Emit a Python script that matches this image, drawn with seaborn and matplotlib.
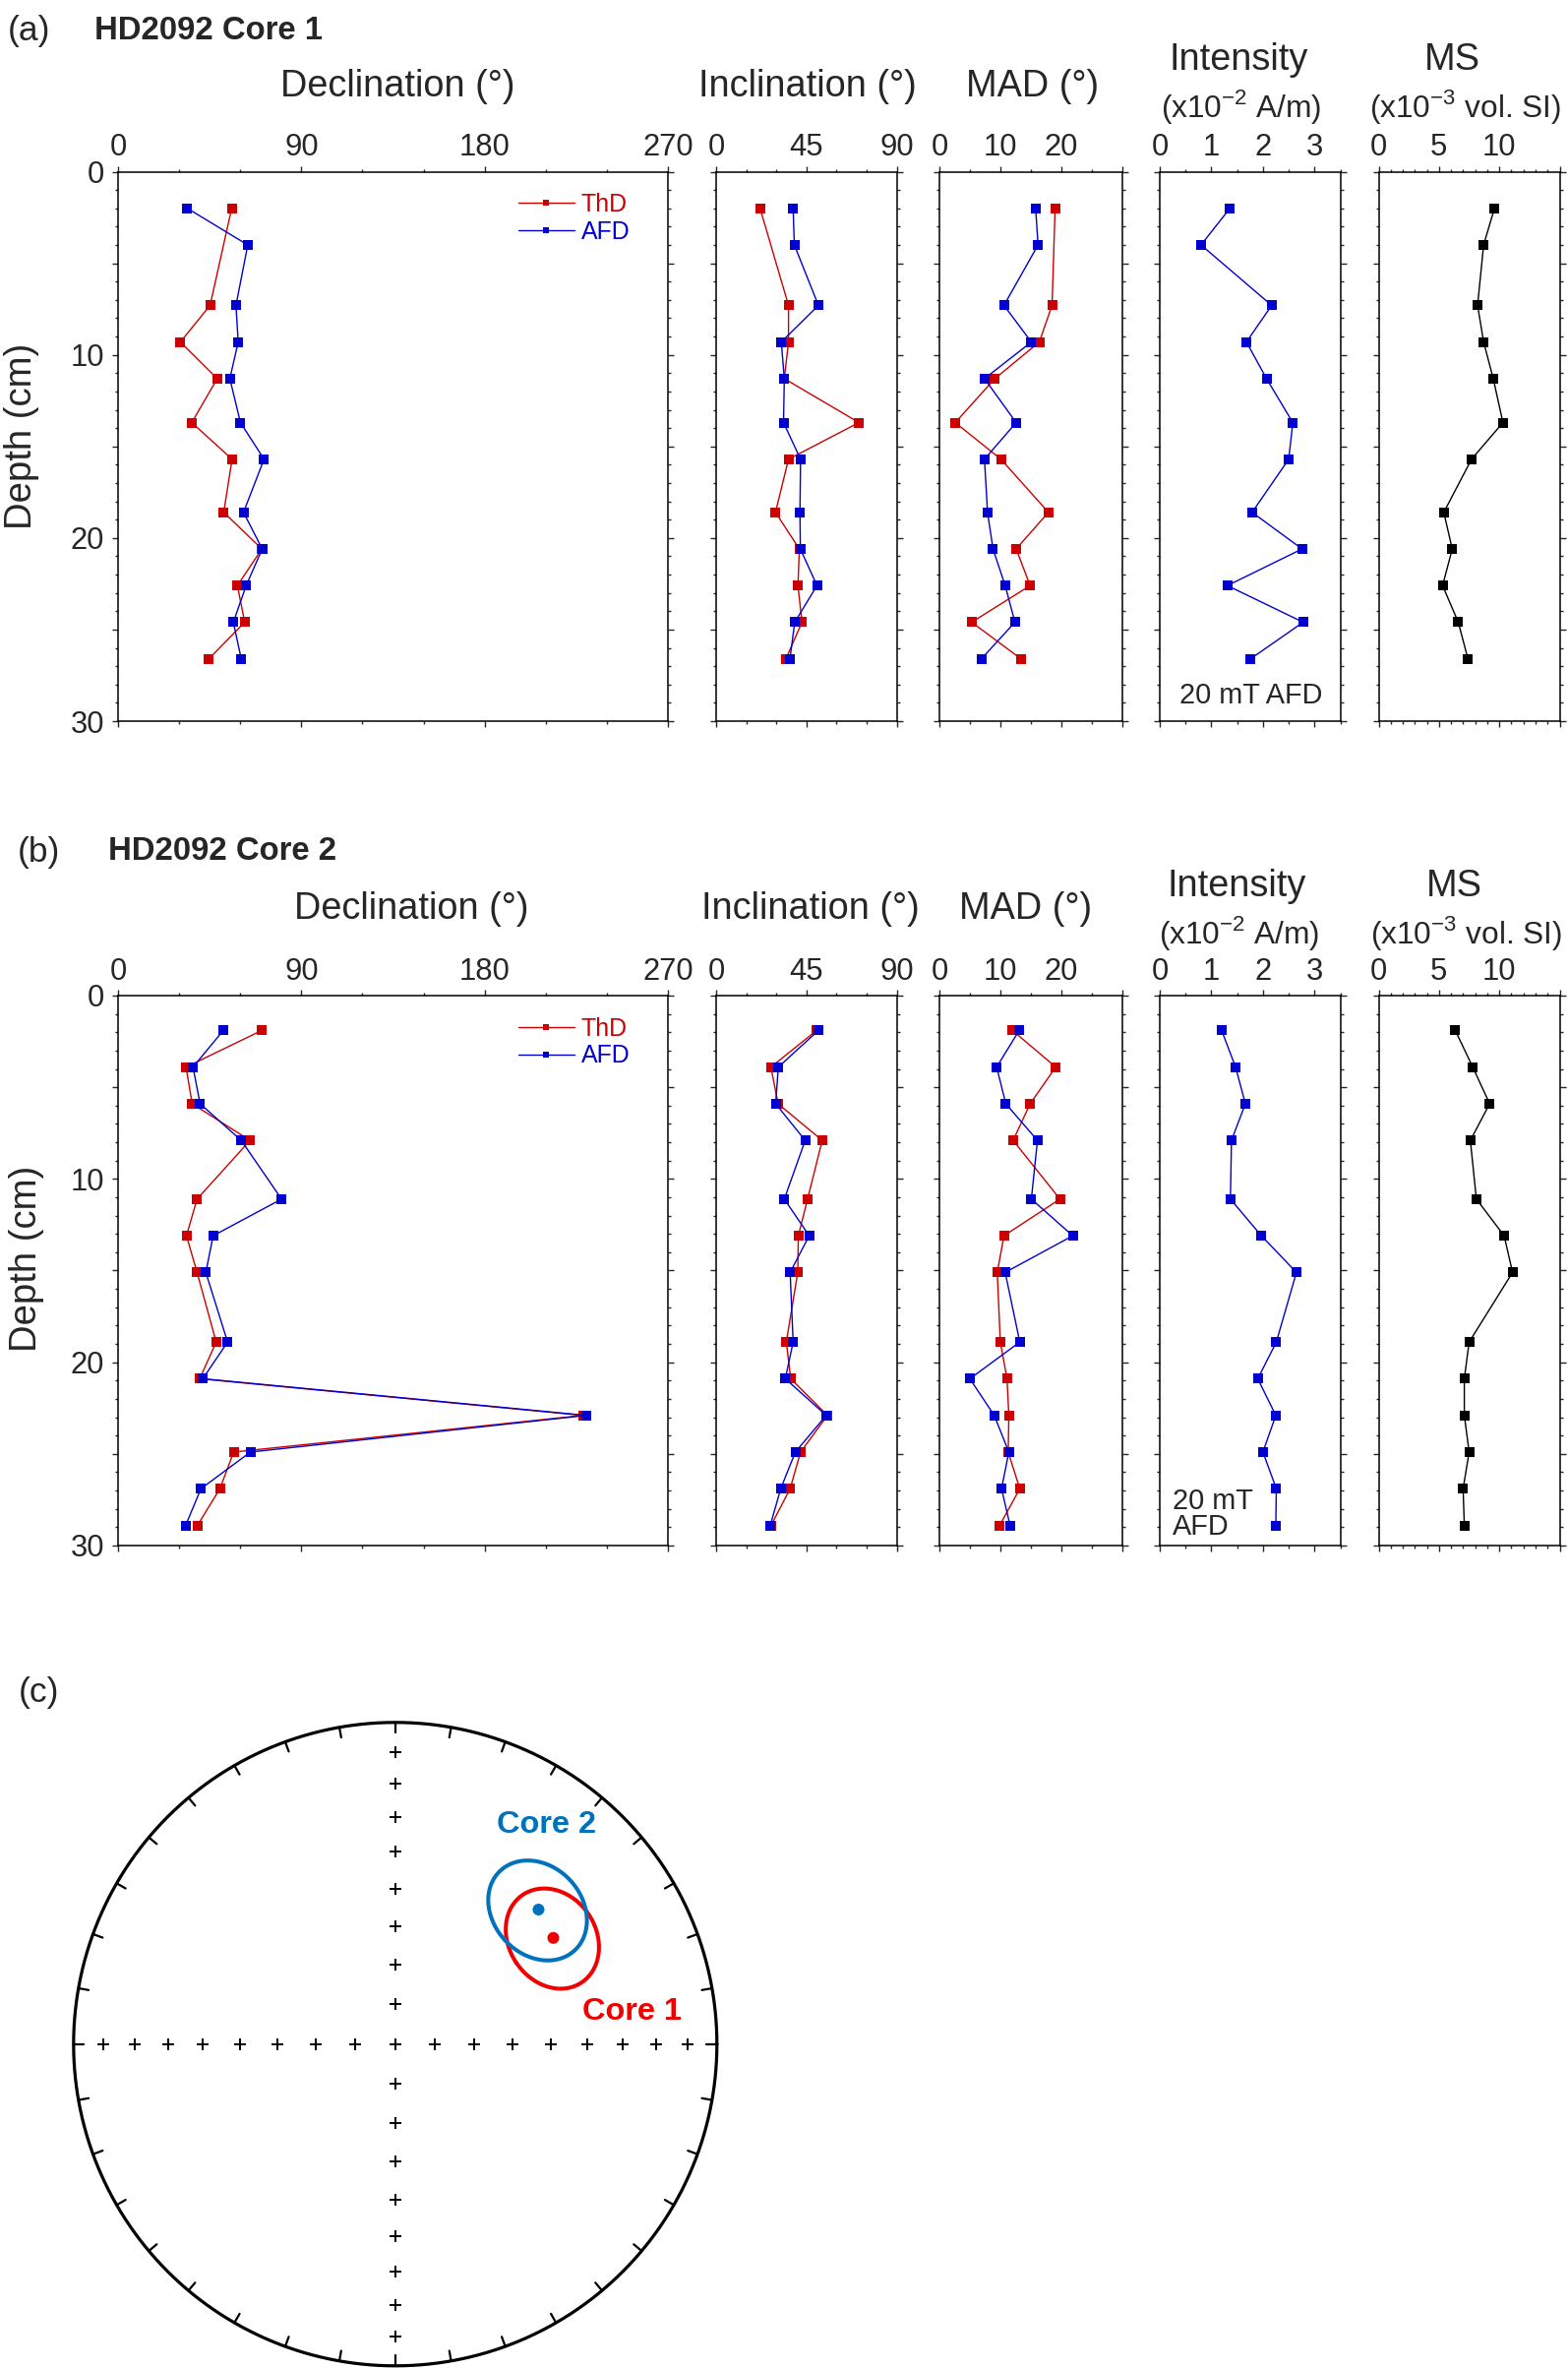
"""Palaeomagnetic down-core profiles for HD2092 cores 1 and 2 plus an equal-area plot of the core means."""

import numpy as np
import matplotlib
matplotlib.use("Agg")
import matplotlib.pyplot as plt
import seaborn as sns
from matplotlib.ticker import FixedLocator, MultipleLocator, FuncFormatter

# ---- Core 1 data (depth in cm) ----
depth1 = [2.0, 4.0, 7.3, 9.3, 11.3, 13.7, 15.7, 18.6, 20.6, 22.6, 24.6, 26.6]
depth1_thd = [2.0, 7.3, 9.3, 11.3, 13.7, 15.7, 18.6, 20.6, 22.6, 24.6, 26.6]
dec1_thd = [55.8, 45.2, 30.6, 48.7, 36.2, 56.0, 51.9, 70.6, 58.6, 62.2, 44.6]
dec1_afd = [34.0, 63.7, 57.9, 59.0, 54.9, 60.1, 71.7, 61.6, 70.8, 62.9, 56.6, 60.5]
inc1_thd = [21.9, 36.1, 36.1, 34.0, 71.2, 36.1, 29.6, 41.5, 40.8, 42.8, 34.8]
inc1_afd = [38.4, 39.0, 51.0, 32.5, 34.0, 33.6, 42.1, 41.8, 42.0, 50.3, 39.2, 36.8]
mad1_thd = [19.0, 18.5, 16.4, 9.1, 2.6, 10.1, 17.9, 12.6, 14.9, 5.3, 13.4]
mad1_afd = [15.8, 16.2, 10.6, 15.1, 7.4, 12.6, 7.4, 7.9, 8.8, 10.8, 12.4, 6.9]
int1_afd = [1.36, 0.80, 2.17, 1.68, 2.07, 2.58, 2.50, 1.79, 2.76, 1.31, 2.78, 1.76]
ms1 = [9.6, 8.7, 8.2, 8.7, 9.5, 10.3, 7.7, 5.4, 6.1, 5.3, 6.6, 7.4]

# ---- Core 2 data ----
depth2 = [1.9, 3.9, 5.9, 7.9, 11.1, 13.1, 15.1, 18.9, 20.9, 22.9, 24.9, 26.9, 28.9]
dec2_thd = [70.6, 33.4, 36.4, 64.8, 38.8, 33.6, 38.8, 48.2, 40.1, 228.3, 56.8, 50.0, 39.0]
dec2_afd = [51.7, 36.8, 40.3, 60.5, 80.3, 46.7, 43.1, 53.8, 41.6, 230.0, 65.0, 40.7, 33.2]
inc2_thd = [50.1, 27.3, 30.9, 52.9, 45.6, 41.0, 40.7, 35.0, 37.2, 55.5, 42.1, 36.9, 27.4]
inc2_afd = [51.0, 31.0, 29.7, 44.4, 34.0, 46.4, 36.9, 38.4, 34.5, 54.9, 39.5, 32.2, 27.0]
mad2_thd = [12.0, 19.1, 14.9, 12.1, 19.8, 10.6, 9.5, 10.0, 11.1, 11.4, 11.3, 13.2, 9.9]
mad2_afd = [13.1, 9.4, 10.9, 16.1, 15.1, 21.9, 10.8, 13.2, 5.0, 9.0, 11.4, 10.2, 11.6]
int2_afd = [1.20, 1.47, 1.66, 1.39, 1.37, 1.97, 2.65, 2.26, 1.90, 2.25, 2.00, 2.26, 2.25]
ms2 = [6.35, 7.8, 9.2, 7.6, 8.1, 10.4, 11.1, 7.5, 7.1, 7.1, 7.5, 7.0, 7.1]

# ---- Core mean directions (panel c) ----
core_names = ["Core 1", "Core 2"]
core_dec = [56.1, 46.8]
core_inc = [40.5, 38.8]
core_a95 = [12.1, 12.4]

# ---- Axis definitions ----
dec_ticks = [0, 90, 180, 270]
inc_ticks = [0, 45, 90]
mad_ticks = [0, 10, 20, 30]
int_ticks = [0, 1, 2, 3]
ms_ticks = [0, 5, 10, 15]

RED = "#CC0000"
BLUE = "#0000D0"
C1_RED = "#F20000"
C2_BLUE = "#0072BD"

W, H = 1594, 2407

sns.set_style("ticks")
plt.rcParams["font.family"] = ["Liberation Sans", "DejaVu Sans"]
plt.rcParams["mathtext.fontset"] = "custom"
plt.rcParams["mathtext.rm"] = "Liberation Sans"
plt.rcParams["axes.linewidth"] = 1.1
plt.rcParams["axes.edgecolor"] = "black"

fig = plt.figure(figsize=(W / 100, H / 100), dpi=100)


def box(x0, x1, y0, y1):
    return [x0 / W, 1 - y1 / H, (x1 - x0) / W, (y1 - y0) / H]


def ftext(x, y, s, **kw):
    fig.text(x / W, 1 - y / H, s, **kw)


COLS = {
    "dec": (120, 679),
    "inc": (728, 911.5),
    "mad": (955, 1140.7),
    "int": (1179, 1362.5),
    "ms": (1401.5, 1585.5),
}
XSPEC = {
    "dec": ((0, 270), dec_ticks, ["0", "90", "180", "270"], 30),
    "inc": ((0, 90), inc_ticks, ["0", "45", "90"], 15),
    "mad": ((0, 30), mad_ticks, ["0", "10", "20", ""], 5),
    "int": ((0, 3.5), int_ticks, ["0", "1", "2", "3"], 0.5),
    "ms": ((0, 15), ms_ticks, ["0", "5", "10", ""], 1),
}
TICK_FS = 22.3


def make_axis(key, top, bottom):
    ax = fig.add_axes(box(COLS[key][0], COLS[key][1], top, bottom))
    lim, major, labels, minor = XSPEC[key]
    ax.set_xlim(*lim)
    ax.xaxis.set_major_locator(FixedLocator(major))
    ax.xaxis.set_major_formatter(FuncFormatter(lambda v, p, lab=labels: lab[p] if p is not None and p < len(lab) else ""))
    ax.xaxis.set_minor_locator(MultipleLocator(minor))
    ax.set_ylim(30, 0)
    ax.yaxis.set_major_locator(MultipleLocator(5))
    ax.yaxis.set_minor_locator(MultipleLocator(1))
    ax.yaxis.set_major_formatter(FuncFormatter(lambda v, p: f"{v:.0f}" if v % 10 == 0 else ""))
    ax.tick_params(axis="x", which="both", top=True, bottom=True, labeltop=True,
                   labelbottom=False, direction="out", labelsize=TICK_FS, pad=2.3)
    ax.tick_params(axis="y", which="both", left=True, right=True, labelleft=(key == "dec"),
                   direction="out", labelsize=TICK_FS, pad=5.5)
    ax.tick_params(which="major", length=4.5, width=1.0)
    ax.tick_params(which="minor", length=2.2, width=1.0)
    for s in ax.spines.values():
        s.set_visible(True)
        s.set_linewidth(1.1)
    return ax


def draw(ax, x, y, color, label=None):
    sns.lineplot(x=x, y=y, ax=ax, orient="y", sort=True, estimator=None, color=color,
                 marker="s", markersize=6.6, markeredgewidth=0, linewidth=1.0, label=label)
    ax.set_xlabel("")
    ax.set_ylabel("")


def core_panel(top, bottom, depth, depth_thd, dec_thd, dec_afd, inc_thd, inc_afd,
               mad_thd, mad_afd, intens, ms):
    ax_dec = make_axis("dec", top, bottom)
    draw(ax_dec, dec_thd, depth_thd, RED, "ThD")
    draw(ax_dec, dec_afd, depth, BLUE, "AFD")
    ax_dec.legend(loc="upper right", bbox_to_anchor=(0.931, 0.9615), frameon=False,
                  fontsize=17.9, labelcolor="linecolor", handlelength=2.3,
                  handletextpad=0.27, borderpad=0, borderaxespad=0, labelspacing=0.16,
                  markerscale=0.75)

    ax_inc = make_axis("inc", top, bottom)
    draw(ax_inc, inc_thd, depth_thd, RED)
    draw(ax_inc, inc_afd, depth, BLUE)

    ax_mad = make_axis("mad", top, bottom)
    draw(ax_mad, mad_thd, depth_thd, RED)
    draw(ax_mad, mad_afd, depth, BLUE)

    ax_int = make_axis("int", top, bottom)
    draw(ax_int, intens, depth, BLUE)

    ax_ms = make_axis("ms", top, bottom)
    draw(ax_ms, ms, depth, "black")
    return ax_int


TITLE_FS = 27.3
SUB_FS = 22.8

# ---- Panel (a) ----
ax_int1 = core_panel(174.5, 733, depth1, depth1_thd, dec1_thd, dec1_afd, inc1_thd, inc1_afd,
                     mad1_thd, mad1_afd, int1_afd, ms1)
ftext(8, 31, "(a)", fontsize=25.5, ha="left", va="center")
ftext(96, 31, "HD2092 Core 1", fontsize=23.7, fontweight="bold", ha="left", va="center")
ftext(404, 88.5, "Declination (°)", fontsize=TITLE_FS, ha="center", va="center")
ftext(821, 88.5, "Inclination (°)", fontsize=TITLE_FS, ha="center", va="center")
ftext(1049.5, 88.5, "MAD (°)", fontsize=TITLE_FS, ha="center", va="center")
ftext(1258.7, 60.8, "Intensity", fontsize=TITLE_FS, ha="center", va="center")
ftext(1261.5, 109, r"(x10$^{\mathregular{-2}}$ A/m)", fontsize=SUB_FS, ha="center", va="center")
ftext(1476.3, 60.8, "MS", fontsize=TITLE_FS, ha="center", va="center")
ftext(1489.2, 109, r"(x10$^{\mathregular{-3}}$ vol. SI)", fontsize=SUB_FS, ha="center", va="center")
ftext(22, 443.6, "Depth (cm)", fontsize=27.5, rotation=90, ha="center", va="center")
ftext(1272, 707, "20 mT AFD", fontsize=20.8, ha="center", va="center")

# ---- Panel (b) ----
ax_int2 = core_panel(1012, 1571, depth2, depth2, dec2_thd, dec2_afd, inc2_thd, inc2_afd,
                     mad2_thd, mad2_afd, int2_afd, ms2)
ftext(18, 866.4, "(b)", fontsize=25.5, ha="left", va="center")
ftext(109.5, 866, "HD2092 Core 2", fontsize=23.7, fontweight="bold", ha="left", va="center")
ftext(418, 924.5, "Declination (°)", fontsize=TITLE_FS, ha="center", va="center")
ftext(824.3, 924.5, "Inclination (°)", fontsize=TITLE_FS, ha="center", va="center")
ftext(1043, 924.5, "MAD (°)", fontsize=TITLE_FS, ha="center", va="center")
ftext(1257.3, 901.3, "Intensity", fontsize=TITLE_FS, ha="center", va="center")
ftext(1260, 948.8, r"(x10$^{\mathregular{-2}}$ A/m)", fontsize=SUB_FS, ha="center", va="center")
ftext(1478, 901.3, "MS", fontsize=TITLE_FS, ha="center", va="center")
ftext(1490.8, 948.8, r"(x10$^{\mathregular{-3}}$ vol. SI)", fontsize=SUB_FS, ha="center", va="center")
ftext(26.7, 1279.6, "Depth (cm)", fontsize=27.5, rotation=90, ha="center", va="center")
ftext(1191.5, 1539, "20 mT\nAFD", fontsize=20.8, ha="left", va="center", linespacing=0.95)

# ---- Panel (c): equal-area stereonet ----
CX, CY, R = 401.8, 2077.8, 327.0
PADPX = 10.0
ax_st = fig.add_axes(box(CX - R - PADPX, CX + R + PADPX, CY - R - PADPX, CY + R + PADPX))
lim = (R + PADPX) / R
ax_st.set_xlim(-lim, lim)
ax_st.set_ylim(-lim, lim)
ax_st.set_aspect("equal")
ax_st.axis("off")


def eq_area(dec, inc):
    d = np.radians(dec)
    i = np.radians(inc)
    r = np.sqrt(2) * np.sin((np.pi / 2 - np.abs(i)) / 2)
    return r * np.sin(d), r * np.cos(d)


def cone(dec, inc, a95, n=361):
    d, i, a = np.radians(dec), np.radians(inc), np.radians(a95)
    m = np.array([np.cos(i) * np.cos(d), np.cos(i) * np.sin(d), np.sin(i)])
    u = np.array([-np.sin(i) * np.cos(d), -np.sin(i) * np.sin(d), np.cos(i)])
    v = np.array([-np.sin(d), np.cos(d), 0.0])
    t = np.linspace(0, 2 * np.pi, n)
    p = np.cos(a) * m[:, None] + np.sin(a) * (np.cos(t) * u[:, None] + np.sin(t) * v[:, None])
    decs = np.degrees(np.arctan2(p[1], p[0]))
    incs = np.degrees(np.arcsin(p[2]))
    return eq_area(decs, incs)


# primitive circle with 10 degree ticks
t = np.linspace(0, 2 * np.pi, 721)
ax_st.plot(np.cos(t), np.sin(t), color="black", lw=2.3, clip_on=False)
for az in np.radians(np.arange(0, 360, 10)):
    ax_st.plot([0.968 * np.sin(az), np.sin(az)], [0.968 * np.cos(az), np.cos(az)],
               color="black", lw=1.6, clip_on=False)

# inclination crosses along the N-S and E-W axes (every 10 degrees)
grid_inc = np.arange(10, 91, 10)
for az in [0, 90, 180, 270]:
    gx, gy = eq_area(np.full(grid_inc.shape, az), grid_inc)
    ax_st.plot(gx, gy, linestyle="none", marker="+", markersize=8.5, mew=1.4, color="black")

colors = [C1_RED, C2_BLUE]
for k in [0, 1]:
    ex, ey = cone(core_dec[k], core_inc[k], core_a95[k])
    ax_st.plot(ex, ey, color=colors[k], lw=2.9, zorder=3 + k)

mx, my = eq_area(np.array(core_dec), np.array(core_inc))
sns.scatterplot(x=mx, y=my, hue=core_names, palette=colors, s=75, edgecolor="none",
                legend=False, ax=ax_st, zorder=6)
ax_st.set_xlabel("")
ax_st.set_ylabel("")
ax_st.text(0.47, 0.681, "Core 2", color=C2_BLUE, fontsize=23.4, fontweight="bold",
           ha="center", va="center")
ax_st.text(0.737, 0.099, "Core 1", color=C1_RED, fontsize=23.4, fontweight="bold",
           ha="center", va="center")
ftext(19, 1720.8, "(c)", fontsize=25.5, ha="left", va="center")

fig.savefig("out.png", dpi=100)
